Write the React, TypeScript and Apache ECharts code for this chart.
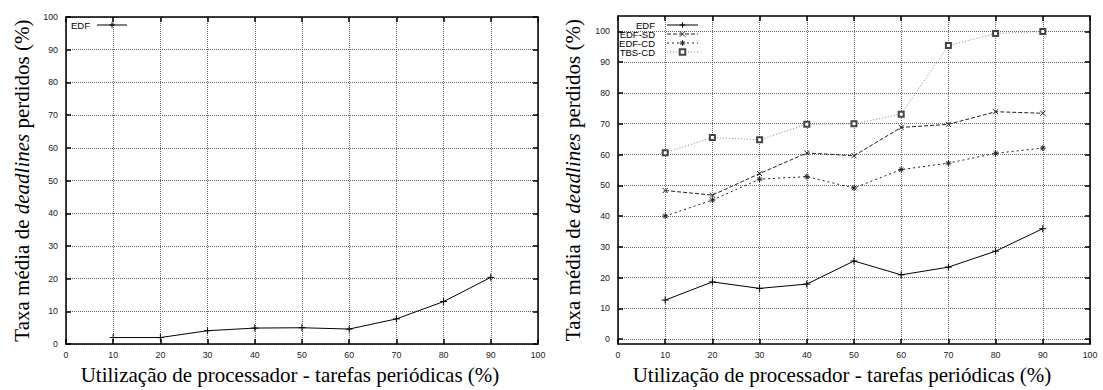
import React, { useEffect, useRef } from "react";
import * as echarts from "echarts";

const xs = [10, 20, 30, 40, 50, 60, 70, 80, 90];
const yTicks = [0, 10, 20, 30, 40, 50, 60, 70, 80, 90, 100];

const leftEDF = [2.0, 2.0, 4.1, 4.9, 5.0, 4.6, 7.7, 13.0, 20.4];

const rightEDF = [12.7, 18.6, 16.5, 17.9, 25.4, 20.9, 23.4, 28.6, 35.9];
const rightEDFSD = [48.3, 46.8, 53.8, 60.5, 59.6, 68.8, 69.8, 73.9, 73.4];
const rightEDFCD = [40.0, 45.2, 52.0, 52.8, 49.1, 55.1, 57.2, 60.4, 62.1];
const rightTBSCD = [60.6, 65.5, 64.8, 69.8, 70.0, 73.1, 95.4, 99.3, 100.0];

const xName = "Utilização de processador - tarefas periódicas (%)";
const yName = "Taxa média de {i|deadlines} perdidos (%)";

const SANS = "Liberation Sans";
const SERIF = "Liberation Serif";

const PLUS = "path://M5,0L5,10M0,5L10,5";
const CROSS = "path://M0,0L10,10M10,0L0,10";
const STAR = "path://M5,0L5,10M0,5L10,5M1.5,1.5L8.5,8.5M8.5,1.5L1.5,8.5";

const pairs = (ys: number[]) => xs.map((x, i) => [x, ys[i]]);

const frameLine = { show: true, onZero: false, lineStyle: { color: "#000", width: 1.5 } };
const tickIn = { show: true, inside: true, length: 5, lineStyle: { color: "#000", width: 1.5 } };
const grid = { show: true, lineStyle: { color: "#666", width: 1, type: "dotted" } };
const tickLabel = { color: "#222", fontFamily: SANS, fontSize: 8.8 };

const yNameStyle = {
  fontFamily: SERIF,
  fontSize: 21,
  color: "#000",
  rich: {
    i: { fontFamily: SERIF, fontSize: 21, fontStyle: "italic", color: "#000" },
  },
};

function xAxes(gridIndex: number) {
  return [
    {
      type: "value",
      gridIndex,
      min: 0,
      max: 100,
      interval: 10,
      position: "bottom",
      axisLine: frameLine,
      axisTick: tickIn,
      splitLine: grid,
      axisLabel: { ...tickLabel, margin: 6 },
      name: xName,
      nameLocation: "middle",
      nameGap: 14,
      nameTextStyle: { fontFamily: SERIF, fontSize: 21, color: "#000", padding: [0, 24, 0, 0] },
    },
    {
      type: "value",
      gridIndex,
      min: 0,
      max: 100,
      interval: 10,
      position: "top",
      axisLine: frameLine,
      axisTick: tickIn,
      splitLine: { show: false },
      axisLabel: { show: false },
    },
  ];
}

function makeSeries(name: string, ys: number[], xi: number, yi: number, kind: string) {
  const styles: Record<string, any> = {
    edf: { symbol: PLUS, symbolSize: 7, line: { color: "#000", width: 1, type: "solid" }, color: "#000" },
    sd: { symbol: CROSS, symbolSize: 5, line: { color: "#222", width: 1, type: [4, 2] }, color: "#222" },
    cd: { symbol: STAR, symbolSize: 6, line: { color: "#222", width: 1, type: [2, 3] }, color: "#222" },
    tbs: { symbol: "emptyRect", symbolSize: 5, line: { color: "#888", width: 1, type: [1, 2] }, color: "#444" },
  };
  const s = styles[kind];
  return {
    type: "line",
    name,
    xAxisIndex: xi,
    yAxisIndex: yi,
    data: pairs(ys),
    symbol: s.symbol,
    symbolSize: s.symbolSize,
    showAllSymbol: true,
    lineStyle: s.line,
    itemStyle: { color: s.color, borderColor: s.color, borderWidth: 1 },
    z: 3,
  };
}

const legendCommon = {
  orient: "vertical",
  align: "right",
  top: 20,
  itemHeight: 7,
  itemGap: -1,
  padding: 0,
  selectedMode: false,
  lineStyle: { width: 1 },
  itemStyle: { borderWidth: 1 },
};

export default function App() {
  const ref = useRef<HTMLDivElement>(null);
  useEffect(() => {
    if (!ref.current) return;
    const chart = echarts.init(ref.current, undefined, { renderer: "svg" });
    const option: any = {
      animation: false,
      backgroundColor: "#fff",
      grid: [
        { left: 66, right: 1103 - 538, top: 17, bottom: 390 - 352 },
        { left: 618, right: 1103 - 1090, top: 16, bottom: 390 - 352 },
      ],
      xAxis: [...xAxes(0), ...xAxes(1)],
      yAxis: [
        {
          type: "value",
          gridIndex: 0,
          min: 0,
          max: 100,
          interval: 10,
          position: "left",
          axisLine: frameLine,
          axisTick: tickIn,
          splitLine: grid,
          axisLabel: { ...tickLabel, margin: 8 },
          name: yName,
          nameLocation: "middle",
          nameRotate: 90,
          nameGap: 34,
          nameTextStyle: yNameStyle,
        },
        {
          type: "value",
          gridIndex: 0,
          min: 0,
          max: 100,
          interval: 10,
          position: "right",
          axisLine: frameLine,
          axisTick: tickIn,
          splitLine: { show: false },
          axisLabel: { show: false },
        },
        {
          type: "value",
          gridIndex: 1,
          min: -1.6,
          max: 105,
          position: "left",
          axisLine: frameLine,
          axisTick: { ...tickIn, customValues: yTicks },
          splitLine: grid,
          axisLabel: { ...tickLabel, margin: 8, customValues: yTicks },
          name: yName,
          nameLocation: "middle",
          nameRotate: 90,
          nameGap: 35,
          nameTextStyle: yNameStyle,
        },
        {
          type: "value",
          gridIndex: 1,
          min: -1.6,
          max: 105,
          position: "right",
          axisLine: frameLine,
          axisTick: { ...tickIn, customValues: yTicks },
          splitLine: { show: false },
          axisLabel: { show: false, customValues: yTicks },
        },
      ],
      legend: [
        {
          ...legendCommon,
          data: ["EDF"],
          left: 68,
          itemWidth: 30,
          textStyle: { fontFamily: SANS, fontSize: 9.5, color: "#000", width: 22, lineHeight: 10, padding: [0, 2, 0, 0] },
        },
        {
          ...legendCommon,
          data: ["EDF", "EDF-SD", "EDF-CD", "TBS-CD"],
          left: 614,
          itemWidth: 31,
          textStyle: { fontFamily: SANS, fontSize: 9.5, color: "#000", width: 41, lineHeight: 10, padding: [0, 7, 0, 0] },
        },
      ],
      series: [
        makeSeries("EDF", leftEDF, 0, 0, "edf"),
        makeSeries("EDF", rightEDF, 2, 2, "edf"),
        makeSeries("EDF-SD", rightEDFSD, 2, 2, "sd"),
        makeSeries("EDF-CD", rightEDFCD, 2, 2, "cd"),
        makeSeries("TBS-CD", rightTBSCD, 2, 2, "tbs"),
      ],
    };
    chart.setOption(option);
    return () => chart.dispose();
  }, []);
  return (
    <div
      ref={ref}
      style={{ position: "fixed", left: 0, top: 0, width: 1103, height: 390, background: "#fff" }}
    />
  );
}
